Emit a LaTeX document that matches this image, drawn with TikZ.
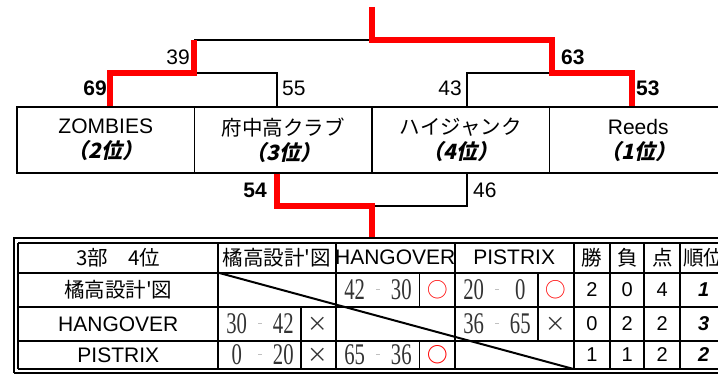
\documentclass[tikz,border=0pt]{standalone}
\usepackage{fontspec}
\setmainfont{Liberation Sans}
\newfontfamily\jpfont{Noto Sans CJK JP}
\newfontfamily\jprank{Noto Sans CJK JP}[FakeSlant=0.22,RawFeature=+halt]
\newfontfamily\scorefont{Liberation Serif}[FakeStretch=0.69]
\usepackage{xcolor}
\usepackage{tikz}
\usetikzlibrary{calc,positioning}
\definecolor{winred}{HTML}{FF0000}
\definecolor{scoregray}{HTML}{333333}
\definecolor{dashgray}{HTML}{C0C0C0}
\newcommand{\Rank}[1]{{\jprank\bfseries #1}}
\newcommand{\Score}[2]{{\scorefont\color{scoregray}\makebox[23.3pt]{#1}\makebox[23.3pt]{\color{dashgray}\rule[9.5pt]{3.5pt}{1.1pt}}\makebox[23.3pt]{#2}}}
\tikzset{
  winline/.style={line width=6.5pt,winred},
  bracketline/.style={line width=2pt,black},
  teambox/.style={draw,line width=1.3pt,minimum width=177.5pt,minimum height=66pt,
    align=center,inner sep=0pt,font=\fontsize{21}{25}\selectfont},
  pointlabel/.style={inner sep=0pt,font=\fontsize{21}{25}\selectfont},
  winlabel/.style={inner sep=0pt,font=\fontsize{21}{25}\selectfont\bfseries},
  gridline/.style={line width=2pt},
  subline/.style={line width=1.2pt},
  cell/.style={inner sep=0pt,font=\fontsize{21}{25}\selectfont},
  jpcell/.style={inner sep=0pt,font=\jpfont\fontsize{20.5}{25}\selectfont},
  numcell/.style={inner sep=0pt,font=\fontsize{20}{22}\selectfont},
  rankcell/.style={inner sep=0pt,font=\fontsize{20}{22}\selectfont\bfseries\itshape},
  scorecell/.style={inner sep=0pt,font=\fontsize{30}{30}\selectfont},
  markcell/.style={inner sep=0pt,font=\jpfont\fontsize{20.5}{25}\selectfont},
}

\begin{document}
\begin{tikzpicture}[x=1pt,y=-1pt]
  \useasboundingbox (0,0) rectangle (718,374);

  % teams
  \node[teambox] at (105.75,140) (zombies) {ZOMBIES\\\Rank{（2位）}};
  \node[teambox] at (283.25,140) (fuchu) {{\jpfont\fontsize{20.5}{25}\selectfont 府中高クラブ}\\\Rank{（3位）}};
  \node[teambox] at (460.75,140) (highjump) {{\jpfont\fontsize{20.5}{25}\selectfont ハイジャンク}\\\Rank{（4位）}};
  \node[teambox] at (638.25,140) (reeds) {Reeds\\\Rank{（1位）}};

  \coordinate (champ) at (372,7);
  \coordinate (finalL) at (194,40);
  \coordinate (finalJ) at (372,40);
  \coordinate (finalR) at (552,40);
  \coordinate (semiL) at (194,73);
  \coordinate (semiR) at (552,73);
  \coordinate (thirdJ) at (372,206);
  \coordinate (tabletop) at (372,238);

  \draw[bracketline] (finalL) -- (finalJ);
  \draw[bracketline] (semiL) -| ($(fuchu.north)+(-6.25,0)$);
  \draw[bracketline] (semiR) -| ($(highjump.north)+(6.25,0)$);
  \draw[bracketline] ($(highjump.south)+(6.25,0)$) |- (thirdJ);
  \draw[winline] ($(zombies.north)+(4.25,0)$) |- (semiL) -- (finalL);
  \draw[winline] (champ) -- (finalJ) -- (finalR) -- (semiR) -| ($(reeds.north)+(-6.25,0)$);
  \draw[winline] ($(fuchu.south)+(-6.25,0)$) |- (thirdJ) -- (tabletop);

  \node[pointlabel,anchor=east] at (190,57) (p39) {39};
  \node[winlabel,anchor=east] at (107,88) (p69) {69};
  \node[pointlabel,anchor=west] at (282,88) (p55) {55};
  \node[pointlabel,anchor=east] at (462,88) (p43) {43};
  \node[winlabel,anchor=west] at (561,57) (p63) {63};
  \node[winlabel,anchor=west] at (636,88) (p53) {53};
  \node[winlabel,anchor=east] at (267,190) (p54) {54};
  \node[pointlabel,anchor=west] at (473,190) (p46) {46};

  % league table
  \draw[gridline] (14.3,372.7) -- (14.3,238) -- (731,238);
  \draw[gridline] (14.3,372.7) -- (731,372.7);
  \foreach \y in {242.7,272.7,307,340.8,369}
    \draw[gridline] (18.3,\y) -- (727,\y);
  \foreach \x in {18.3,218.3,335.5,455,573.5,610.3,644.3,680.3,727}
    \draw[gridline] (\x,242.7) -- (\x,369);
  \draw[subline] (301,307) -- (301,369);
  \draw[subline] (419.7,272.7) -- (419.7,307) (419.7,340.8) -- (419.7,369);
  \draw[subline] (538,272.7) -- (538,340.8);
  \draw[gridline] (218.3,272.7) -- (573.5,369);

  \node[jpcell] at (118.3,257.7) (corner) {3部　4位};
  \node[jpcell] at (276.9,257.7) (headtk) {橘高設計'図};
  \node[cell] at (395.2,257.7) (headhang) {HANGOVER};
  \node[cell] at (514.2,257.7) (headpis) {PISTRIX};
  \node[jpcell] at (591.9,257.7) (headwin) {勝};
  \node[jpcell] at (627.3,257.7) (headlose) {負};
  \node[jpcell] at (662.3,257.7) (headpts) {点};
  \node[jpcell] at (703.6,257.7) (headrank) {順位};

  \node[jpcell] at (118.3,289.8) (rowtk) {橘高設計'図};
  \node[cell] at (118.3,323.9) (rowhang) {HANGOVER};
  \node[cell] at (118.3,354.9) (rowpis) {PISTRIX};

  \node[scorecell] at (378,289.8) (tkhang) {\Score{42}{30}};
  \node[markcell,text=winred] at (437.3,289.8) (tkhangmark) {○};
  \node[scorecell] at (497,289.8) (tkpis) {\Score{20}{0}};
  \node[markcell,text=winred] at (555.7,289.8) (tkpismark) {○};
  \node[numcell] at (591.9,289.8) (tkwin) {2};
  \node[numcell] at (627.3,289.8) (tklose) {0};
  \node[numcell] at (662.3,289.8) (tkpts) {4};
  \node[rankcell] at (703.6,289.8) (tkrank) {1};

  \node[scorecell] at (260,323.9) (hangtk) {\Score{30}{42}};
  \node[markcell,text=scoregray] at (318.2,323.9) (hangtkmark) {×};
  \node[scorecell] at (497,323.9) (hangpis) {\Score{36}{65}};
  \node[markcell,text=scoregray] at (555.7,323.9) (hangpismark) {×};
  \node[numcell] at (591.9,323.9) (hangwin) {0};
  \node[numcell] at (627.3,323.9) (hanglose) {2};
  \node[numcell] at (662.3,323.9) (hangpts) {2};
  \node[rankcell] at (703.6,323.9) (hangrank) {3};

  \node[scorecell] at (260,354.9) (pistk) {\Score{0}{20}};
  \node[markcell,text=scoregray] at (318.2,354.9) (pistkmark) {×};
  \node[scorecell] at (378,354.9) (pishang) {\Score{65}{36}};
  \node[markcell,text=winred,font=\jpfont\bfseries\fontsize{20.5}{25}\selectfont] at (437.3,354.9) (pishangmark) {○};
  \node[numcell] at (591.9,354.9) (piswin) {1};
  \node[numcell] at (627.3,354.9) (pislose) {1};
  \node[numcell] at (662.3,354.9) (pispts) {2};
  \node[rankcell] at (703.6,354.9) (pisrank) {2};
\end{tikzpicture}
\end{document}
